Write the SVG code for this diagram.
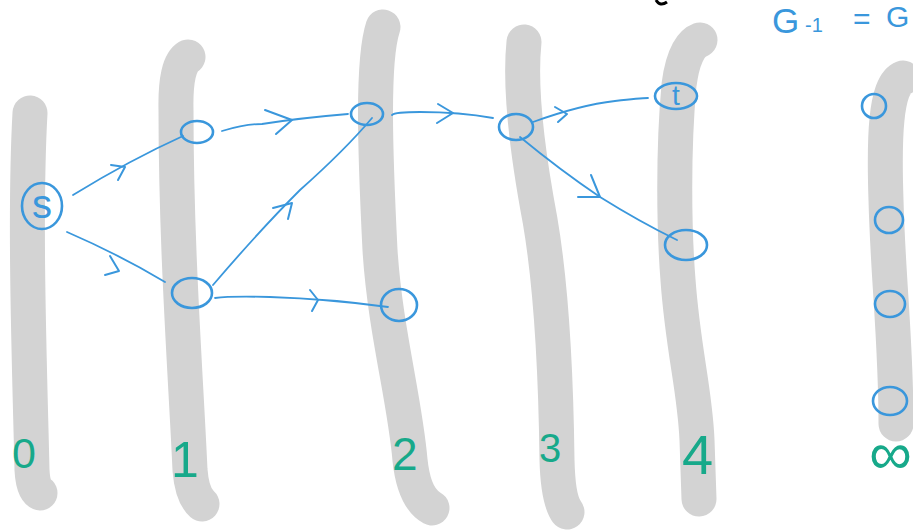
<svg xmlns="http://www.w3.org/2000/svg" width="913" height="531" viewBox="0 0 913 531">
<style>
.col{fill:none;stroke:#d3d3d3;stroke-width:35;stroke-linecap:round;stroke-linejoin:round}
.node{fill:none;stroke:#3a97dc;stroke-width:2.6}
.edge{fill:none;stroke:#3a97dc;stroke-width:1.8;stroke-linecap:round;stroke-linejoin:round}
.head{fill:none;stroke:#3a97dc;stroke-width:2;stroke-linecap:round;stroke-linejoin:round}
.num{font-family:"Liberation Sans",Arial,sans-serif;fill:#17a98a}
.lbl{font-family:"Liberation Sans",Arial,sans-serif;fill:#3a97dc}
</style>
<rect width="913" height="531" fill="#ffffff"/>
<g id="columns">
<path class="col" d="M30,113 C24,220 30,380 32,470 Q33,490 40,493"/>
<path class="col" d="M188,57 Q175,65 176,110 C176,250 186,380 190,470 Q192,495 202,504"/>
<path class="col" d="M383,27 C372,60 375,150 380,250 C385,330 405,400 410,460 Q414,498 432,508"/>
<path class="col" d="M524,42 C520,80 525,140 540,220 C552,290 556,380 557,460 Q558,500 567,512"/>
<path class="col" d="M700,40 Q684,46 679,85 C673,150 674,230 678,280 C683,350 695,390 697,440 L699,499"/>
<path class="col" d="M903,78 C885,85 884,140 886,200 C888,280 896,340 896,424"/>
</g>
<g id="connectors">
<path class="edge" d="M73,195 Q130,160 183,136"/>
<path class="head" d="M111,165 L125,167 L118,180"/>
<path class="edge" d="M67,232 Q120,255 165,282"/>
<path class="head" d="M110,256 L119,271 L105,275"/>
<path class="edge" d="M222,131 Q245,124 262,124 Q300,118 348,114"/>
<path class="head" d="M265,110 L292,120 L276,134"/>
<path class="edge" d="M213,285 Q260,230 300,190 Q345,150 372,118"/>
<path class="head" d="M273,208 L292,203 L288,219"/>
<path class="edge" d="M215,298 Q230,296 270,297 Q330,299 388,307"/>
<path class="head" d="M310,290 L318,300 L312,311"/>
<path class="edge" d="M392,115 Q395,112 420,112 Q460,112 493,118"/>
<path class="head" d="M438,104 L453,113 L437,123"/>
<path class="edge" d="M533,122 Q580,105 615,101 Q640,98 648,98"/>
<path class="head" d="M555,107 L567,114 L558,122"/>
<path class="edge" d="M520,137 Q560,170 600,197 Q640,222 677,240"/>
<path class="head" d="M591,175 L600,197 L578,197"/>
</g>
<g id="node-s">
<ellipse class="node" cx="42" cy="206" rx="20" ry="23"/>
<text class="lbl" x="42" y="218" font-size="40" text-anchor="middle">s</text>
</g>
<g id="node-1a"><ellipse class="node" cx="197" cy="132" rx="16" ry="11"/></g>
<g id="node-1b"><ellipse class="node" cx="192" cy="293" rx="20" ry="15"/></g>
<g id="node-2a"><ellipse class="node" cx="367" cy="114" rx="16" ry="11"/></g>
<g id="node-2b"><ellipse class="node" cx="399" cy="305" rx="18" ry="16"/></g>
<g id="node-3a"><ellipse class="node" cx="516" cy="127" rx="17" ry="13"/></g>
<g id="node-t">
<ellipse class="node" cx="676" cy="96" rx="21" ry="13"/>
<text class="lbl" x="676" y="105" font-size="28" text-anchor="middle">t</text>
</g>
<g id="node-4b"><ellipse class="node" cx="686" cy="245" rx="21" ry="15"/></g>
<g id="node-inf-1"><ellipse class="node" cx="874" cy="106" rx="12" ry="12"/></g>
<g id="node-inf-2"><ellipse class="node" cx="889" cy="220" rx="14" ry="13"/></g>
<g id="node-inf-3"><ellipse class="node" cx="890" cy="304" rx="15" ry="13"/></g>
<g id="node-inf-4"><ellipse class="node" cx="890" cy="401" rx="17" ry="14"/></g>
<g id="labels">
<text class="num" x="12" y="468" font-size="43">0</text>
<text class="num" x="171" y="477" font-size="50">1</text>
<text class="num" x="392" y="470" font-size="46">2</text>
<text class="num" x="539" y="462" font-size="40">3</text>
<text class="num" x="682" y="474" font-size="56">4</text>
<text class="num" x="869" y="474" font-size="60">∞</text>
<text class="lbl" x="772" y="33" font-size="35">G</text>
<text class="lbl" x="805" y="32" font-size="20">-1</text>
<text class="lbl" x="853" y="29" font-size="30">=</text>
<text class="lbl" x="886" y="27" font-size="30">G</text>
</g>
<path d="M656,0 Q660,7 667,2" fill="none" stroke="#000" stroke-width="3"/>
</svg>
